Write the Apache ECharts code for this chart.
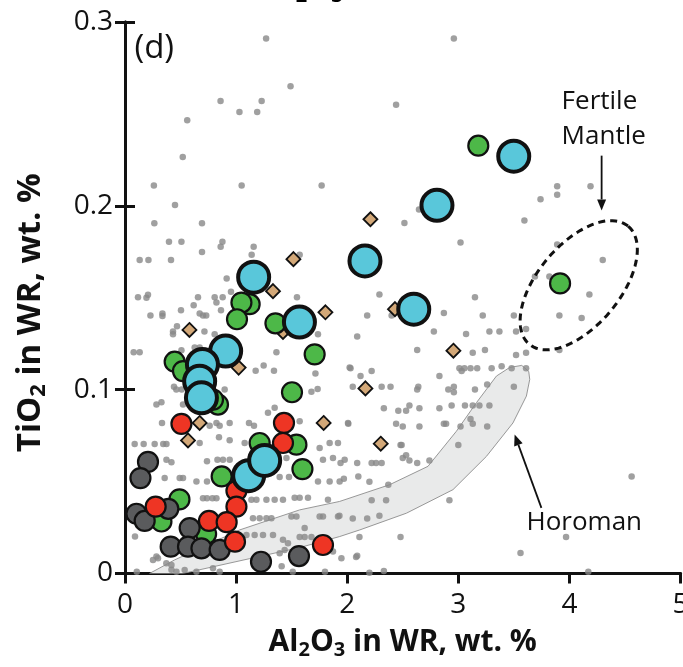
<!DOCTYPE html>
<html><head><meta charset="utf-8">
<script src="https://cdn.jsdelivr.net/npm/echarts@6/dist/echarts.min.js"></script>
<style>html,body{margin:0;padding:0;background:#fff;overflow:hidden;width:683px;height:667px}#c{width:683px;height:667px;overflow:hidden}</style>
</head><body><div id="c"></div>
<script>
// ---- Data (Al2O3 wt.%, TiO2 wt.%) ----
const xTickValues = [0, 1, 2, 3, 4, 5];
const yTickValues = [0, 0.1, 0.2, 0.3];

const literatureDots = [
 [1.27,0.291],[1.49,0.265],[0.86,0.257],[1.23,0.257],[1.03,0.251],[1.19,0.251],[0.56,0.2465],[0.52,0.2265],[0.26,0.211],[1.05,0.211],[1.77,0.211],[0.45,0.2005],
 [2.96,0.291],[2.44,0.255],[3.89,0.2107],[4.19,0.2107],[3.89,0.206],[3.74,0.2036],[3.595,0.192],[2.515,0.1907],[2.646,0.198],[3.02,0.180],
 [3.89,0.179],[4.30,0.1705],[3.69,0.1616],[3.82,0.1616],[4.18,0.1518],[2.29,0.1518],[3.15,0.1503],[2.18,0.1403],[2.40,0.1403],[2.87,0.1417],[3.22,0.1403],[3.50,0.1403],[3.91,0.1403],[4.11,0.139],
 [2.09,0.1289],[2.78,0.1316],[3.07,0.1303],[3.28,0.1316],[3.37,0.1316],[3.52,0.1316],[3.61,0.133],
 [2.63,0.1216],[3.13,0.1201],[3.24,0.1216],[3.52,0.1188],[3.61,0.1201],[3.91,0.1216],
 [2.03,0.1116],[2.22,0.1101],[2.12,0.1074],[2.83,0.1074],[3.01,0.1116],[3.055,0.1116],[3.11,0.1116],[3.17,0.1116],[3.03,0.1101],[3.30,0.1116],[3.39,0.1128],[3.48,0.1116],[3.61,0.1116],
 [4.56,0.0528],[3.97,0.0199],[3.56,0.0112],
 [2.05,0.1016],[2.31,0.1016],[2.39,0.1016],[2.64,0.1016],[2.63,0.1001],[2.91,0.1001],[2.96,0.1016],[2.96,0.0986],[3.15,0.1001],[3.26,0.1028],[3.50,0.1016],
 [2.33,0.0899],[2.46,0.0885],[2.53,0.0885],[2.56,0.0914],[2.65,0.0899],[2.83,0.0899],[2.94,0.0914],[3.06,0.0914],[3.13,0.0914],[3.19,0.0914],[3.28,0.0914],
 [3.11,0.0841],[3.13,0.0814],[2.01,0.0814],[2.44,0.0814],[2.50,0.0799],[2.65,0.0799],[2.87,0.0814],[2.89,0.0814],[3.02,0.0799],[3.26,0.0799],
 [2.48,0.0699],[2.49,0.0699],[3.00,0.0699],
 [2.50,0.0628],[2.56,0.0615],[2.53,0.0643],[2.63,0.0601],[2.74,0.0615],[1.94,0.0601],[2.09,0.0601],[2.22,0.0601],[2.26,0.0601],[2.31,0.0601],
 [1.97,0.0516],[2.10,0.0528],[2.20,0.0499],[2.37,0.0483],
 [2.22,0.0399],[2.35,0.0399],[2.92,0.0399],
 [2.05,0.0299],[2.18,0.0299],[2.29,0.0314],[1.93,0.0314],
 [2.11,0.0199],[2.48,0.0199],[2.09,0.0097],[2.20,0.0004],[2.33,0.0014],
 [0.264,0.1905],[0.693,0.1905],[0.396,0.1805],[0.508,0.1805],[0.877,0.1805],[0.861,0.1777],[1.158,0.1777],[0.693,0.1749],[1.14,0.1734],[1.572,0.1734],[0.132,0.1705],[0.211,0.1705],[0.414,0.1705],[0.915,0.1605],[0.954,0.1532],[0.117,0.1503],[0.193,0.150],[0.207,0.1516],[0.657,0.1503],[0.807,0.1503],[0.879,0.1503],[0.823,0.1474],[1.548,0.1503],[0.618,0.1459],[0.504,0.1432],[0.864,0.1432],[0.229,0.1403],[0.337,0.1414],[0.337,0.1401],[0.672,0.1414],[0.702,0.1403],[0.731,0.1403],[0.468,0.1345],[0.432,0.1316],[0.432,0.1301],[0.715,0.1316],[0.807,0.1301],[1.737,0.1301],[0.508,0.1214],[0.627,0.1229],[0.672,0.1229],[0.078,0.1203],[0.132,0.1203],[1.363,0.1203],[1.248,0.1132],[1.176,0.1103],[1.341,0.1103],[1.714,0.1088],[1.734,0.1003],[1.678,0.0988],[0.441,0.1016],[0.462,0.1001],[0.51,0.1001],[0.897,0.1001],[2.022,0.112],
 [0.283,0.0919],[0.328,0.0932],[0.522,0.0919],[1.347,0.0901],[1.287,0.0874],[0.333,0.0819],[0.823,0.0819],[0.852,0.0804],[0.942,0.0819],[1.116,0.0819],[1.161,0.0804],[2.007,0.0819],[1.572,0.0828],[0.762,0.0804],
 [0.087,0.0705],[0.168,0.0705],[0.267,0.0705],[0.344,0.0705],[0.373,0.0705],[0.672,0.071],[0.846,0.0741],[0.942,0.0725],[1.077,0.071],[1.842,0.071],[1.917,0.071],[1.752,0.0683],
 [0.373,0.0619],[0.418,0.0605],[0.738,0.061],[0.832,0.0619],[0.882,0.0619],[0.942,0.0619],[1.453,0.0628],[1.782,0.0619],[1.872,0.0628],[1.977,0.0619],
 [0.357,0.052],[0.492,0.052],[0.522,0.052],[0.643,0.0501],[0.738,0.0501],[1.152,0.0525],[1.392,0.0525],[1.476,0.0525],[1.737,0.0501],[1.842,0.0501],[1.932,0.0501],
 [0.702,0.041],[0.738,0.041],[0.787,0.041],[0.823,0.041],[1.138,0.0401],[1.183,0.0401],[1.273,0.0401],[1.347,0.0401],[1.422,0.0401],[1.527,0.0412],[1.572,0.0412],[1.647,0.0412],[1.827,0.0401],
 [1.152,0.0301],[1.212,0.0301],[1.273,0.0301],[1.318,0.0301],[1.498,0.031],[1.543,0.031],[1.752,0.031],[1.782,0.031],[1.917,0.031],
 [0.09,0.0201],[1.093,0.021],[1.167,0.021],[1.242,0.021],[1.332,0.021],[1.422,0.0183],[1.572,0.0199],[1.617,0.0199],[1.678,0.0199],[1.617,0.0247],[1.467,0.0165],
 [0.283,0.0092],[0.418,0.0046],[0.537,0.0019],[0.643,0.001],[0.852,0.001],[0.792,0.0028],[1.392,0.011],[1.437,0.0128],[1.498,0.0101],[1.872,0.0119],[1.948,0.0083],
 [0.106,0.001],[0.252,0.0074],[0.297,0.0083],[0.372,0.0056],[0.418,0.002],[0.463,0.001],[1.41,0.004],[1.51,0.001],[1.8,0.001],[2.08,0.009],[4.17,0.001]
];

const diamondPts = [[2.209,0.1927],[1.516,0.171],[1.332,0.1536],[1.804,0.1421],[2.43,0.1438],[1.422,0.1314],[0.58,0.1325],[1.023,0.112],[2.956,0.1212],[2.164,0.1007],[1.788,0.0819],[0.672,0.0819],[0.567,0.0724],[2.302,0.0706]];

const greenPts = [[3.18,0.2327],[3.916,0.1578],[1.122,0.1465],[1.048,0.1474],[1.008,0.1383],[1.354,0.1361],[1.707,0.1192],[0.447,0.1152],[0.522,0.1101],[0.837,0.0919],[0.792,0.0946],[1.503,0.0986],[1.212,0.071],[1.543,0.0701],[1.597,0.0568],[0.87,0.0528],[0.49,0.0403],[0.328,0.0283],[0.73,0.0215]];

const darkPts = [[0.207,0.0607],[0.139,0.0519],[0.103,0.0325],[0.177,0.0286],[0.39,0.0352],[0.582,0.0247],[0.411,0.0146],[0.567,0.0146],[0.688,0.0137],[0.852,0.0128],[1.224,0.0064],[1.566,0.0095]];

const redPts = [[0.508,0.0814],[1.431,0.0819],[1.422,0.071],[1.003,0.045],[1.003,0.0364],[0.276,0.0364],[0.756,0.0286],[0.915,0.0279],[0.99,0.0173],[1.782,0.0155]];

const cyanPts = [[3.499,0.227],[2.808,0.2003],[2.16,0.170],[2.599,0.1438],[1.158,0.1612],[1.57,0.1368],[0.906,0.121],[0.697,0.1137],[0.672,0.1046],[0.688,0.0956],[1.113,0.0532],[1.257,0.0615]];

// Horoman field outline
const horomanBand = [[0.22,0],[0.447,0.0074],[1.032,0.0237],[1.572,0.0346],[1.932,0.0392],[2.382,0.0483],[2.727,0.0583],[2.983,0.0774],[3.163,0.0929],[3.343,0.1074],[3.463,0.1121],[3.571,0.1132],[3.634,0.1099],[3.643,0.1056],[3.613,0.0965],[3.492,0.0819],[3.253,0.0637],[2.952,0.0456],[2.533,0.0328],[2.113,0.0237],[1.932,0.0201],[1.572,0.0141],[1.123,0.0081],[0.52,0]];

const fertileCenter = [4.084, 0.1568];

const arrowLines = [[4.29,0.2273,4.29,0.1975],[3.748,0.0357,3.507,0.0756]];

const labelTexts = [
  {t:'(d)', x:0.085, y:0.2856, size:33},
  {t:'Fertile', x:3.93, y:0.2567, size:26},
  {t:'Mantle', x:3.93, y:0.2379, size:26},
  {t:'Horoman', x:3.614, y:0.0276, size:26}
];

// ---- Chart ----
const FONT = 'Open Sans';
const chart = echarts.init(document.getElementById('c'), null, {renderer:'canvas', width:683, height:667});
const axisLine = {show:true, lineStyle:{color:'#111', width:3}};
const tickStyle = {color:'#111', width:3};
const rich = {
  a:{fontFamily:FONT, fontWeight:'bold', fontSize:30, color:'#111', lineHeight:34},
  s:{fontFamily:FONT, fontWeight:'bold', fontSize:20, color:'#111', lineHeight:20, padding:[16,0,0,0]}
};
const richY = {
  a:{fontFamily:FONT, fontWeight:'bold', fontSize:33, color:'#111', lineHeight:37},
  s:{fontFamily:FONT, fontWeight:'bold', fontSize:22, color:'#111', lineHeight:22, padding:[17,0,0,0]}
};
function scatter(name, data, color, size, bw, symbol){
  return {name, type:'scatter', data, symbol: symbol||'circle', symbolSize:size, silent:true,
    itemStyle:{color, borderColor:'#111', borderWidth:bw, opacity:1}};
}
const option = {
  animation:false,
  grid:{left:125, right:2.5, top:22, bottom:93.5, containLabel:false, outerBoundsMode:'none'},
  graphic:[
    {type:'text', left:266, top:-30, silent:true,
     style:{rich, text:'{a|Al}{s|2}{a|O}{s|3}'}}
  ],
  xAxis:[
    {type:'value', position:'bottom', min:0, max:5, interval:1,
     axisLine, axisTick:{show:true, inside:false, length:8, lineStyle:tickStyle},
     splitLine:{show:false},
     axisLabel:{fontFamily:FONT, fontSize:28, color:'#111', margin:18, formatter:v=>String(v)},
     name:'{a|Al}{s|2}{a|O}{s|3}{a| in WR, wt. %}', nameLocation:'middle', nameGap:51,
     nameTextStyle:{rich}},
    {type:'value', position:'top', min:0, max:5, interval:1,
     axisLine, axisTick:{show:true, inside:true, length:10, lineStyle:tickStyle},
     axisLabel:{show:false}, splitLine:{show:false}}
  ],
  yAxis:[
    {type:'value', position:'left', min:0, max:0.3, interval:0.1,
     axisLine, axisTick:{show:true, inside:true, length:10, lineStyle:tickStyle},
     splitLine:{show:false},
     axisLabel:{fontFamily:FONT, fontSize:28, color:'#111', margin:12, formatter:v=> v===0?'0':v.toFixed(1)},
     name:'{a|TiO}{s|2}{a| in WR, wt. %}', nameLocation:'middle', nameGap:76, nameRotate:90,
     nameTextStyle:{rich:richY, padding:[0,30,0,0]}},
    {type:'value', position:'right', min:0, max:0.3, interval:0.1,
     axisLine, axisTick:{show:true, inside:true, length:10, lineStyle:tickStyle},
     axisLabel:{show:false}, splitLine:{show:false}}
  ],
  series:[
    {type:'custom', silent:true, clip:true, z:1, data:[[0,0]],
     renderItem:(p,api)=>({type:'polygon', shape:{points:horomanBand.map(d=>api.coord(d))},
       style:{fill:'#e9eaea', stroke:'#8c8c8c', lineWidth:0.9}})},
    Object.assign(scatter('lit', literatureDots, '#888888', 6.5, 0), {itemStyle:{color:'#888888', borderWidth:0}}),
    scatter('diamond', diamondPts, '#d3a878', 14, 1.8, 'diamond'),
    scatter('green', greenPts, '#4db848', 20, 2.2),
    scatter('dark', darkPts, '#5a5b5d', 20, 2.2),
    scatter('red', redPts, '#ee3524', 20, 2.2),
    scatter('cyan', cyanPts, '#59c7da', 31, 4),
    {type:'custom', silent:true, clip:false, z:5, data:[[0,0]],
     renderItem:(p,api)=>{
       const c = api.coord(fertileCenter);
       const a = 50*Math.PI/180, rx = 77, ry = 41, pts=[];
       for(let i=0;i<=96;i++){
         const t = i/96*2*Math.PI;
         const u = rx*Math.cos(t), v = ry*Math.sin(t);
         pts.push([c[0] + u*Math.cos(a) + v*Math.sin(a), c[1] - u*Math.sin(a) + v*Math.cos(a)]);
       }
       return {type:'polyline', shape:{points:pts}, style:{fill:null, stroke:'#111', lineWidth:3, lineDash:[7,5]}};
     }},
    {type:'custom', silent:true, clip:false, z:6, data:arrowLines,
     encode:{x:[0,2], y:[1,3]},
     renderItem:(p,api)=>{
       const s = api.coord([api.value(0), api.value(1)]);
       const e = api.coord([api.value(2), api.value(3)]);
       const dx=e[0]-s[0], dy=e[1]-s[1], L=Math.hypot(dx,dy), ux=dx/L, uy=dy/L;
       const hl=11, hw=4.5;
       const b=[e[0]-ux*hl, e[1]-uy*hl];
       return {type:'group', children:[
         {type:'line', shape:{x1:s[0],y1:s[1],x2:b[0],y2:b[1]}, style:{stroke:'#111', lineWidth:1.8}},
         {type:'polygon', shape:{points:[e,[b[0]-uy*hw,b[1]+ux*hw],[b[0]+uy*hw,b[1]-ux*hw]]}, style:{fill:'#111'}}
       ]};
     }},
    {type:'custom', silent:true, clip:false, z:7, data:[[0,0]],
     renderItem:(p,api)=>({type:'group', children: labelTexts.map(l=>{
       const c = api.coord([l.x,l.y]);
       return {type:'text', x:c[0], y:c[1], style:{text:l.t, fill:'#111', font:l.size+'px "Open Sans"', textAlign:'left', textVerticalAlign:'middle'}};
     })})}
  ]
};
chart.setOption(option);
</script></body></html>
